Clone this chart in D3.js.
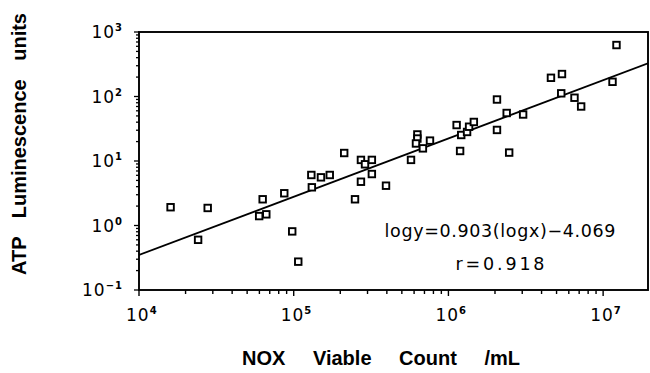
<!DOCTYPE html>
<html>
<head>
<meta charset="utf-8">
<script src="https://cdn.jsdelivr.net/npm/d3@7"></script>
<style>
  body { margin: 0; background: #fff; }
  text { fill: #000; }
</style>
</head>
<body>
<div id="chart"></div>
<script>
// NOX viable count (/mL) vs ATP luminescence units
const countValues = [
  1.60e4, 2.41e4, 2.78e4, 5.98e4, 6.65e4, 6.30e4, 8.69e4, 9.78e4, 1.07e5,
  1.30e5, 1.31e5, 1.50e5, 1.71e5, 2.12e5, 2.49e5, 2.72e5, 2.89e5, 3.20e5,
  3.20e5, 2.72e5, 3.95e5, 5.73e5, 6.30e5, 6.30e5, 6.17e5, 6.84e5, 7.60e5,
  1.13e6, 1.21e6, 1.32e6, 1.36e6, 1.46e6, 1.19e6, 2.06e6, 2.06e6, 2.38e6,
  2.47e6, 3.04e6, 4.60e6, 5.42e6, 5.36e6, 6.53e6, 7.21e6, 1.15e7, 1.22e7
];
const atpValues = [
  1.92, 0.60, 1.87, 1.40, 1.49, 2.55, 3.16, 0.81, 0.275,
  6.07, 3.91, 5.58, 6.07, 13.3, 2.55, 10.4, 8.89, 10.4,
  6.28, 4.77, 4.14, 10.4, 25.8, 22.3, 18.7, 15.7, 20.7,
  36.1, 25.3, 28.2, 34.0, 40.3, 14.3, 89.8, 30.3, 55.5,
  13.5, 52.6, 195, 223, 112, 95.7, 70.0, 169, 628
];
const xTickExps = [4, 5, 6, 7];
const yTickExps = [-1, 0, 1, 2, 3];
// regression: logy = slope * logx + intercept
const slope = 0.903;
const intercept = -4.069;
const eqLabel = 'logy=0.903(logx)\u22124.069';
const rLabel = 'r=0.918';

const width = 650, height = 373;
const mLeft = 139, mRight = 648, mTop = 32, mBottom = 290;

const svg = d3.select('#chart')
  .append('svg')
  .attr('width', width)
  .attr('height', height);

const x = d3.scaleLog().domain([1e4, 1.95e7]).range([mLeft, mRight]);
const y = d3.scaleLog().domain([0.1, 1000]).range([mBottom, mTop]);

const tickFont = 'DejaVu Sans, sans-serif';
const titleFont = 'Liberation Sans, Arial, sans-serif';
const sup = e => String(e).replace('-', '\u2212');
const isDecade = v => Math.abs(Math.log10(v) - Math.round(Math.log10(v))) < 1e-9;

// minor + major ticks
const xMinor = x.ticks().filter(v => v <= 1.95e7);
svg.append('g').selectAll('line')
  .data(xMinor)
  .enter()
  .append('line')
  .attr('x1', d => x(d)).attr('x2', d => x(d))
  .attr('y1', mBottom)
  .attr('y2', d => isDecade(d) ? mBottom + 6 : mBottom + 4)
  .attr('stroke', '#000')
  .attr('stroke-width', 1.4);

const yMinor = y.ticks();
svg.append('g').selectAll('line')
  .data(yMinor)
  .enter()
  .append('line')
  .attr('y1', d => y(d)).attr('y2', d => y(d))
  .attr('x1', mLeft)
  .attr('x2', d => isDecade(d) ? mLeft - 5 : mLeft - 3)
  .attr('stroke', '#000')
  .attr('stroke-width', 1.3);

// frame
svg.append('rect')
  .attr('x', mLeft).attr('y', mTop)
  .attr('width', mRight - mLeft).attr('height', mBottom - mTop)
  .attr('fill', 'none')
  .attr('stroke', '#000')
  .attr('stroke-width', 1.9);

// tick labels
const xLab = svg.append('g').selectAll('text')
  .data(xTickExps)
  .enter()
  .append('text')
  .attr('x', d => x(Math.pow(10, d)) - 13)
  .attr('y', 321)
  .style('font-family', tickFont)
  .style('font-size', '17px')
  .style('letter-spacing', '1px');
xLab.append('tspan').text('10');
xLab.append('tspan')
  .attr('dy', -7)
  .style('font-size', '10px')
  .style('font-weight', 'bold')
  .text(d => sup(d));

const yLab = svg.append('g').selectAll('text')
  .data(yTickExps)
  .enter()
  .append('text')
  .attr('x', 123)
  .attr('y', d => y(Math.pow(10, d)) + 6)
  .attr('text-anchor', 'end')
  .style('font-family', tickFont)
  .style('font-size', '17px')
  .style('letter-spacing', '1px');
yLab.append('tspan').text('10');
yLab.append('tspan')
  .attr('dy', -7)
  .style('font-size', '10px')
  .style('font-weight', 'bold')
  .text(d => sup(d));

// fit line
svg.append('clipPath').attr('id', 'plotclip')
  .append('rect')
  .attr('x', mLeft).attr('y', mTop)
  .attr('width', mRight - mLeft).attr('height', mBottom - mTop);

const fitX = x.domain();
const line = d3.line()
  .x(d => x(d))
  .y(d => y(Math.pow(10, slope * Math.log10(d) + intercept)));

svg.append('path')
  .datum(fitX)
  .attr('d', line)
  .attr('clip-path', 'url(#plotclip)')
  .attr('fill', 'none')
  .attr('stroke', '#000')
  .attr('stroke-width', 1.9);

// points
const pts = countValues.map((c, i) => ({ c: c, a: atpValues[i] }));
const s = 6.5;
svg.append('g').selectAll('rect')
  .data(pts)
  .enter()
  .append('rect')
  .attr('x', d => x(d.c) - s / 2)
  .attr('y', d => y(d.a) - s / 2)
  .attr('width', s).attr('height', s)
  .attr('fill', '#fff')
  .attr('stroke', '#000')
  .attr('stroke-width', 1.9);

// regression text
svg.append('text')
  .attr('x', 500).attr('y', 237)
  .attr('text-anchor', 'middle')
  .attr('textLength', 231)
  .style('font-family', tickFont)
  .style('font-size', '17.5px')
  .text(eqLabel);

svg.append('text')
  .attr('x', 500).attr('y', 270)
  .attr('text-anchor', 'middle')
  .attr('textLength', 89)
  .style('font-family', tickFont)
  .style('font-size', '17.5px')
  .text(rLabel);

// axis titles
svg.append('text')
  .attr('x', 381).attr('y', 365)
  .attr('text-anchor', 'middle')
  .style('font-family', titleFont)
  .style('font-weight', 'bold')
  .style('font-size', '20px')
  .style('word-spacing', '22px')
  .text('NOX Viable Count /mL');

svg.append('text')
  .attr('transform', 'translate(26,144) rotate(-90)')
  .attr('text-anchor', 'middle')
  .style('font-family', titleFont)
  .style('font-weight', 'bold')
  .style('font-size', '20px')
  .style('word-spacing', '13px')
  .text('ATP Luminescence units');
</script>
</body>
</html>
